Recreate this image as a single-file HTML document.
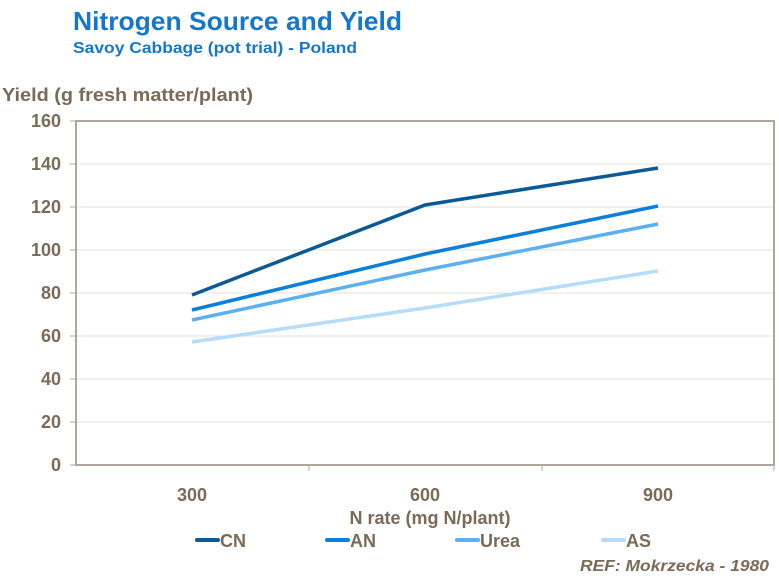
<!DOCTYPE html>
<html><head><style>
body{margin:0;background:#fff;width:779px;height:575px;overflow:hidden;font-family:"Liberation Sans",Arial,sans-serif}
</style></head><body>
<svg width="779" height="575" xmlns="http://www.w3.org/2000/svg" font-family="Liberation Sans, Arial, sans-serif">
<text x="73" y="30" font-size="26" font-weight="bold" fill="#1577cc" textLength="329" lengthAdjust="spacingAndGlyphs">Nitrogen Source and Yield</text>
<text x="73" y="53" font-size="16" font-weight="bold" fill="#1577cc" textLength="284" lengthAdjust="spacingAndGlyphs">Savoy Cabbage (pot trial) - Poland</text>
<text x="2" y="101" font-size="18" font-weight="bold" fill="#7a6a58" textLength="251" lengthAdjust="spacingAndGlyphs">Yield (g fresh matter/plant)</text>
<g stroke="#e4e0da" stroke-width="1">
<line x1="76" x2="774" y1="164" y2="164"/><line x1="76" x2="774" y1="207" y2="207"/>
<line x1="76" x2="774" y1="250" y2="250"/><line x1="76" x2="774" y1="293" y2="293"/>
<line x1="76" x2="774" y1="336" y2="336"/><line x1="76" x2="774" y1="379" y2="379"/>
<line x1="76" x2="774" y1="422" y2="422"/>
</g>
<rect x="76" y="121" width="698" height="344" fill="none" stroke="#b0a59a" stroke-width="2"/>
<g stroke="#b0a59a" stroke-width="1">
<line x1="70" x2="76" y1="121" y2="121"/><line x1="70" x2="76" y1="164" y2="164"/><line x1="70" x2="76" y1="207" y2="207"/><line x1="70" x2="76" y1="250" y2="250"/><line x1="70" x2="76" y1="293" y2="293"/><line x1="70" x2="76" y1="336" y2="336"/><line x1="70" x2="76" y1="379" y2="379"/><line x1="70" x2="76" y1="422" y2="422"/><line x1="70" x2="76" y1="465" y2="465"/>
<line x1="309" x2="309" y1="465" y2="471"/><line x1="542" x2="542" y1="465" y2="471"/><line x1="774" x2="774" y1="465" y2="471"/>
</g>
<g font-size="18" font-weight="bold" fill="#7a6a58" text-anchor="end">
<text x="61" y="127">160</text><text x="61" y="170">140</text><text x="61" y="213">120</text><text x="61" y="256">100</text><text x="61" y="299">80</text><text x="61" y="342">60</text><text x="61" y="385">40</text><text x="61" y="428">20</text><text x="61" y="471">0</text>
</g>
<g font-size="18" font-weight="bold" fill="#7a6a58" text-anchor="middle">
<text x="192" y="501">300</text><text x="425" y="501">600</text><text x="658" y="501">900</text>
<text x="430" y="524">N rate (mg N/plant)</text>
</g>
<g fill="none" stroke-width="3.5" stroke-linejoin="round">
<polyline points="192,295 425,205 658,168" stroke="#0b5a96"/>
<polyline points="192,310 425,254 658,206" stroke="#0a7fdc"/>
<polyline points="192,320 425,270 658,224" stroke="#5bb0f0"/>
<polyline points="192,342 425,308 658,271" stroke="#b5dcfa"/>
</g>
<g stroke-width="4" stroke-linecap="round">
<line x1="197" x2="218" y1="540" y2="540" stroke="#0b5a96"/>
<line x1="327" x2="348" y1="540" y2="540" stroke="#0a7fdc"/>
<line x1="457" x2="478" y1="540" y2="540" stroke="#5bb0f0"/>
<line x1="603" x2="624" y1="540" y2="540" stroke="#b5dcfa"/>
</g>
<g font-size="18" font-weight="bold" fill="#7a6a58">
<text x="220" y="547">CN</text><text x="350" y="547">AN</text><text x="480" y="547">Urea</text><text x="626" y="547">AS</text>
</g>
<text x="769" y="571" font-size="16" font-weight="bold" font-style="italic" fill="#7a6a58" text-anchor="end" textLength="189" lengthAdjust="spacingAndGlyphs">REF: Mokrzecka - 1980</text>
</svg>
</body></html>
